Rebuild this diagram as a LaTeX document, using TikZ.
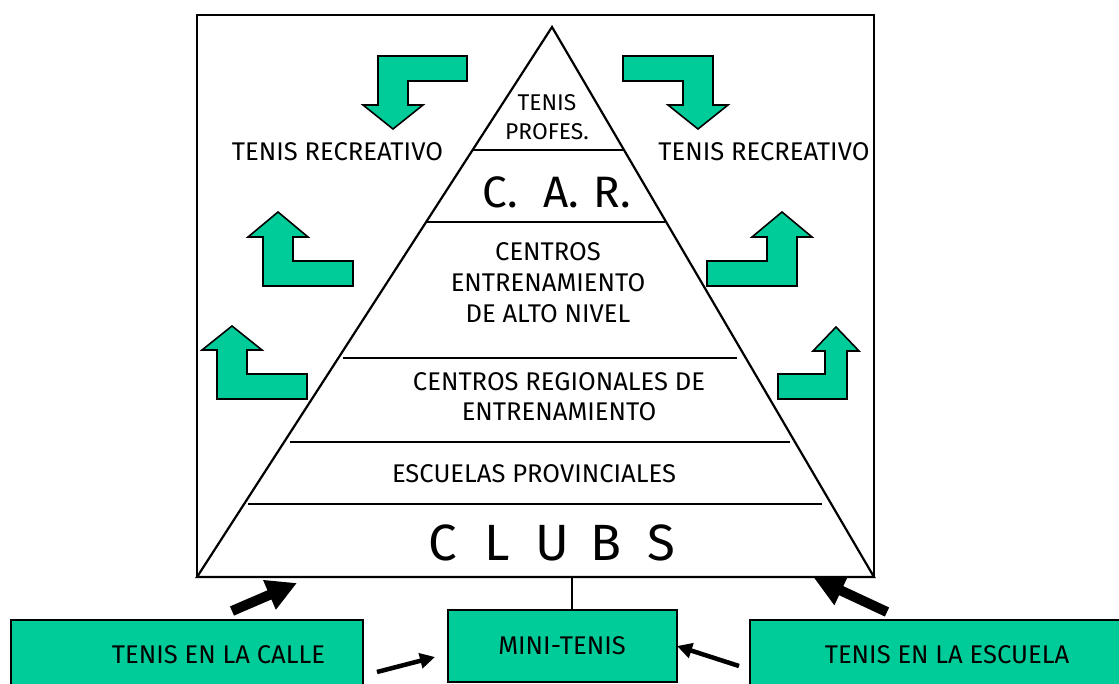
\documentclass[tikz,border=0pt]{standalone}
\usepackage{fontspec}
\setmainfont{Fira Sans}
\usetikzlibrary{arrows.meta}
\definecolor{tgreen}{HTML}{00CC99}
\begin{document}
\begin{tikzpicture}[x=1pt,y=-1pt,
  frame/.style={line width=2pt},
  tri/.style={line width=2.2pt, line join=miter},
  tier/.style={line width=2.2pt},
  bentarrow/.style={fill=tgreen, draw=black, line width=1.6pt, line join=miter},
  lbl/.style={font=\fontsize{25.6}{31}\selectfont, inner sep=0pt, align=center},
  greenbox/.style={fill=tgreen, draw=black, line width=2pt, inner sep=0pt, anchor=north west},
  thickarr/.style={line width=10pt, -{Triangle[length=30pt,width=30pt]}},
  thinarr/.style={line width=4.5pt, -{Triangle[length=15pt,width=15pt]}},
]
\useasboundingbox (0,0) rectangle (1119,684);
\clip (0,0) rectangle (1119,684);

% frame and pyramid
\draw[frame] (197,15) rectangle (874,577);
\coordinate (apex) at (552,27);
\coordinate (bl) at (197,577);
\coordinate (br) at (874,577);
\draw[tri] (bl) -- (apex) -- (br) -- cycle;
\draw[tier] (472,150) -- (623,150);
\draw[tier] (427,222) -- (665,222);
\draw[tier] (343,358) -- (737,358);
\draw[tier] (290,442) -- (790,442);
\draw[tier] (248,504) -- (822,504);

% tier labels
\node[lbl, font=\fontsize{22.8}{28.5}\selectfont] (prof) at (547,117) {TENIS\\PROFES.};
\node[lbl, font=\fontsize{44}{50}\selectfont] (car) at (557,192) {C.\hspace{25pt}A.\hspace{15pt}R.};
\node[lbl] (alto) at (548,283) {CENTROS\\ENTRENAMIENTO\\DE ALTO NIVEL};
\node[lbl, font=\fontsize{25.6}{30}\selectfont] (reg) at (559,396.5) {CENTROS REGIONALES DE\\ENTRENAMIENTO};
\node[lbl] (prov) at (534,474) {ESCUELAS PROVINCIALES};
\node[lbl, font=\fontsize{51}{60}\selectfont] (clubs) at (552,542.5)
  {\makebox[54.5pt]{C}\makebox[54.5pt]{L}\makebox[54.5pt]{U}\makebox[54.5pt]{B}\makebox[54.5pt]{S}};

% side labels
\node[lbl] (recl) at (337.5,152) {TENIS RECREATIVO};
\node[lbl] (recr) at (764,152) {TENIS RECREATIVO};

% green bent arrows
\draw[bentarrow] (378,56) -- (467,56) -- (467,81) -- (408,81) -- (408,105) -- (423,105)
  -- (393,129) -- (363,105) -- (378,105) -- cycle;
\draw[bentarrow] (623,56) -- (713,56) -- (713,105) -- (728,105) -- (698,129) -- (668,105)
  -- (683,105) -- (683,81) -- (623,81) -- cycle;
\draw[bentarrow] (278,212) -- (308,237) -- (293,237) -- (293,261) -- (353,261) -- (353,286)
  -- (263,286) -- (263,237) -- (248,237) -- cycle;
\draw[bentarrow] (232,326) -- (262,350) -- (247,350) -- (247,374) -- (307,374) -- (307,399)
  -- (217,399) -- (217,350) -- (202,350) -- cycle;
\draw[bentarrow] (782,212) -- (812,237) -- (797,237) -- (797,286) -- (707,286) -- (707,261)
  -- (767,261) -- (767,237) -- (752,237) -- cycle;
\draw[bentarrow] (836,327) -- (859,351) -- (847,351) -- (847,399) -- (778,399) -- (778,374)
  -- (825,374) -- (825,351) -- (813,351) -- cycle;

% bottom boxes
\node[greenbox, minimum width=352pt, minimum height=80pt] (calle) at (10,619) {};
\node[lbl] (calletxt) at (218.5,655) {TENIS EN LA CALLE};
\node[greenbox, minimum width=229pt, minimum height=72pt] (mini) at (447,609) {};
\node[lbl] (minitxt) at (562,646) {MINI-TENIS};
\node[greenbox, minimum width=380pt, minimum height=80pt] (escuela) at (749,619) {};
\node[lbl] (escuelatxt) at (947,655) {TENIS EN LA ESCUELA};

% connectors
\coordinate (stem) at (572,577);
\draw[line width=1.5pt] (stem) -- (stem |- mini.north);
\coordinate (ct) at (232,611);
\coordinate (ch) at (297,583);
\draw[thickarr] (ct) -- (ch);
\coordinate (et) at (887,612);
\coordinate (eh) at (814,578);
\draw[thickarr] (et) -- (eh);
\coordinate (mt1) at (377,672);
\coordinate (mh1) at (435,657);
\draw[thinarr] (mt1) -- (mh1);
\coordinate (mt2) at (739,666);
\coordinate (mh2) at (677,646);
\draw[thinarr] (mt2) -- (mh2);
\end{tikzpicture}
\end{document}
